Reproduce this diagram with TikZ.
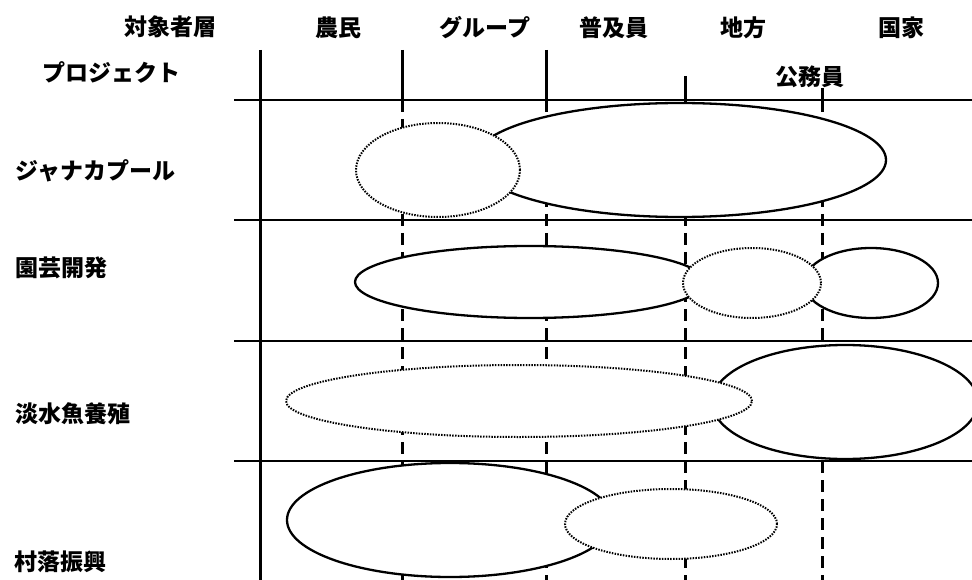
\documentclass[tikz,border=0pt]{standalone}
\usepackage{fontspec}
\newfontfamily\jp{Noto Sans CJK JP}
\usetikzlibrary{shapes.geometric}
\begin{document}
\begin{tikzpicture}[x=1pt,y=-1pt,
  lbl/.style={font=\jp\bfseries\fontsize{23}{26}\selectfont, inner sep=0pt},
  solidell/.style={ellipse, draw, line width=2.3pt, fill=white, inner sep=0pt},
  dotell/.style={ellipse, draw, line width=2pt, dash pattern=on 1.5pt off 1.3pt, fill=white, inner sep=0pt},
  gridline/.style={line width=2.3pt},
  vsolid/.style={line width=3pt},
  vdash/.style={line width=3pt, dash pattern=on 12pt off 7pt}]
\useasboundingbox (0,0) rectangle (972,580);
\fill[white] (0,0) rectangle (972,580);
% header labels
\node[lbl] (hdr) at (170,27) {対象者層};
\node[lbl] (c1) at (338,28) {農民};
\node[lbl] (c2) at (485,28) {グループ};
\node[lbl] (c3) at (614,28) {普及員};
\node[lbl] (c4) at (743,28) {地方};
\node[lbl] (c5) at (901,28) {国家};
\node[lbl, anchor=west] (proj) at (42,72) {プロジェクト};
\node[lbl] (c4b) at (810,77) {公務員};
% row labels
\node[lbl, anchor=west] (r1) at (15,171) {ジャナカプール};
\node[lbl, anchor=west] (r2) at (15,268) {園芸開発};
\node[lbl, anchor=west] (r3) at (15,414) {淡水魚養殖};
\node[lbl, anchor=west] (r4) at (14,562) {村落振興};
% horizontal grid lines
\foreach \yy in {100,220,341,461} \draw[gridline] (234,\yy) -- (972,\yy);
% vertical lines
\draw[vsolid] (260,50) -- (260,580);
\draw[vsolid] (402,50) -- (402,100);
\draw[vdash] (402,100) -- (402,580);
\draw[vsolid] (546,50) -- (546,100);
\draw[vdash] (546,100) -- (546,580);
\draw[vsolid] (685,76) -- (685,100);
\draw[vdash] (685,100) -- (685,580);
\draw[vsolid] (822,88) -- (822,100);
\draw[vdash] (822,100) -- (822,580);
% row 1
\node[solidell, minimum width=412pt, minimum height=114pt] (e1b) at (680,160) {};
\node[dotell, minimum width=164pt, minimum height=94pt] (e1a) at (438,170) {};
% row 2
\node[solidell, minimum width=350pt, minimum height=72pt] (e2a) at (530,282) {};
\node[solidell, minimum width=134pt, minimum height=70pt] (e2c) at (871,283) {};
\node[dotell, minimum width=138pt, minimum height=70pt] (e2b) at (752,283) {};
% row 3
\node[solidell, minimum width=266pt, minimum height=114pt] (e3b) at (845,402) {};
\node[dotell, minimum width=466pt, minimum height=72pt] (e3a) at (519,401) {};
% row 4
\node[solidell, minimum width=326pt, minimum height=114pt] (e4a) at (450,520) {};
\node[dotell, minimum width=212pt, minimum height=70pt] (e4b) at (671,524) {};
\end{tikzpicture}
\end{document}
